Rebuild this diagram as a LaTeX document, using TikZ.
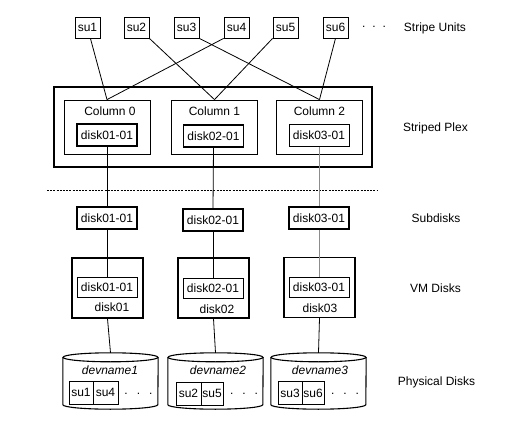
\documentclass[tikz,border=0pt]{standalone}
\usepackage{fontspec}
\setmainfont{Liberation Sans}
\usetikzlibrary{calc}
\begin{document}
\begin{tikzpicture}[x=1pt,y=-1pt,
  every node/.style={font=\fontsize{12}{14}\selectfont, inner sep=0pt},
  thinline/.style={line width=0.8pt},
  subox/.style={draw, line width=0.8pt, minimum width=25, minimum height=21},
  colbox/.style={draw, line width=0.8pt, minimum width=86, minimum height=54},
  dbox/.style={draw, line width=0.8pt, minimum width=60, minimum height=22},
  dboxthick/.style={draw, line width=1.6pt, minimum width=60, minimum height=22},
  vmbox/.style={draw, line width=1.4pt, minimum width=71, minimum height=60},
  cylbox/.style={minimum width=95, minimum height=56},
  cellbox/.style={draw, line width=0.8pt, minimum height=23},
  lab/.style={anchor=center}
]
\useasboundingbox (0,0) rectangle (525,425);
\fill[white] (0,0) rectangle (525,425);

% stripe units
\node[subox] (su1) at (87.5,27.5) {su1};
\node[subox] (su2) at (136.5,27.5) {su2};
\node[subox] (su3) at (186.5,27.5) {su3};
\node[subox] (su4) at (236.5,27.5) {su4};
\node[subox] (su5) at (285.5,27.5) {su5};
\node[subox] (su6) at (335.5,27.5) {su6};
\node (sudots) at (374,27) {.\hspace{7pt}.\hspace{7pt}.};

% striped plex
\node[draw, line width=1.6pt, minimum width=318, minimum height=80] (plex) at (213,127) {};
\node[colbox] (col0) at (107,127) {};
\node[colbox] (col1) at (214.5,127) {};
\node[colbox] (col2) at (319.5,127) {};
\node (c0l) at (110,111) {Column 0};
\node (c1l) at (214.5,111) {Column 1};
\node (c2l) at (319.5,111) {Column 2};
\node[dboxthick] (pd1) at (107,135) {disk01-01};
\node[dboxthick] (pd2) at (213.5,136) {disk02-01};
\node[dbox] (pd3) at (319,135.5) {disk03-01};

% connectors stripe units -> columns
\draw[thinline] (su1.-75) -- (col0.north);
\draw[thinline] (su4.south west) -- (col0.north);
\draw[thinline] (su2.south east) -- (col1.north);
\draw[thinline] (su5.south west) -- (col1.north);
\draw[thinline] (su3.south east) -- (col2.north);
\draw[thinline] (su6.south) -- (col2.north);

% dotted separator
\coordinate (sepL) at (47,190);
\coordinate (sepR) at (378,190);
\draw[line width=0.9pt, dash pattern=on 2pt off 1.2pt] (sepL) -- (sepR);

% subdisks
\node[dboxthick] (sd1) at (107,218) {disk01-01};
\node[dboxthick] (sd2) at (213,220) {disk02-01};
\node[dbox, line width=1.1pt] (sd3) at (319,218) {disk03-01};
\draw[thinline] (pd1.south) -- (sd1.north);
\draw[thinline] (pd2.south) -- (sd2.north);
\draw[thinline, black!45] (pd3.south) -- (sd3.north);

% VM disks
\node[vmbox] (vm1) at (107.5,288) {};
\node[vmbox] (vm2) at (213.5,288) {};
\node[vmbox] (vm3) at (319.5,287.5) {};
\node[dbox, minimum height=20] (vi1) at (107,287) {disk01-01};
\node[dbox, minimum height=20] (vi2) at (213,288.5) {disk02-01};
\node[dbox, minimum height=20] (vi3) at (319,287) {disk03-01};
\node (vl1) at (112,307) {disk01};
\node (vl2) at (217,309) {disk02};
\node (vl3) at (320,308) {disk03};
\draw[thinline] (sd1.south) -- (vi1.north);
\draw[thinline] (sd2.south) -- (vi2.north);
\draw[thinline, black!45] (sd3.south) -- (vi3.north);

% physical disks (cylinders)
\node[cylbox] (cy1) at (110.5,381) {};
\node[cylbox] (cy2) at (215.5,381) {};
\node[cylbox] (cy3) at (318.5,381) {};
\foreach \c in {cy1,cy2,cy3}{
  \draw[line width=1.1pt, fill=white] ($(\c.north west)+(0,4.5)$) -- ($(\c.south west)+(0,-4.5)$)
     arc[start angle=180, end angle=0, x radius=47.5, y radius=4.5]
     -- ($(\c.north east)+(0,4.5)$);
  \draw[line width=1.1pt] ($(\c.north)+(0,4.5)$) ellipse[x radius=47.5, y radius=4.5];
}
\draw[thinline] (vm1.south) -- (cy1.north);
\draw[thinline] (vm2.south) -- (cy2.north);
\draw[thinline] (vm3.south) -- (cy3.north);

\node (dn1) at (110,370) {\itshape devname1};
\node (dn2) at (218,370) {\itshape devname2};
\node (dn3) at (320,370) {\itshape devname3};

\node[cellbox, minimum width=24] (c1a) at (81,392.5) {su1};
\node[cellbox, minimum width=25] (c1b) at (105.5,392.5) {su4};
\node[cellbox, minimum width=25] (c2a) at (188.5,393.5) {su2};
\node[cellbox, minimum width=22] (c2b) at (212,393.5) {su5};
\node[cellbox, minimum width=24] (c3a) at (290,393) {su3};
\node[cellbox, minimum width=22] (c3b) at (313,393) {su6};
\node (d1) at (138.5,394) {.\hspace{9pt}.\hspace{9pt}.};
\node (d2) at (244,394) {.\hspace{9pt}.\hspace{9pt}.};
\node (d3) at (345,394) {.\hspace{9pt}.\hspace{9pt}.};

% right labels
\node[lab] (l1) at (435,28) {Stripe Units};
\node[lab] (l2) at (435.5,128) {Striped Plex};
\node[lab] (l3) at (436,218) {Subdisks};
\node[lab] (l4) at (435.5,288) {VM Disks};
\node[lab] (l5) at (436.5,382) {Physical Disks};
\end{tikzpicture}
\end{document}
